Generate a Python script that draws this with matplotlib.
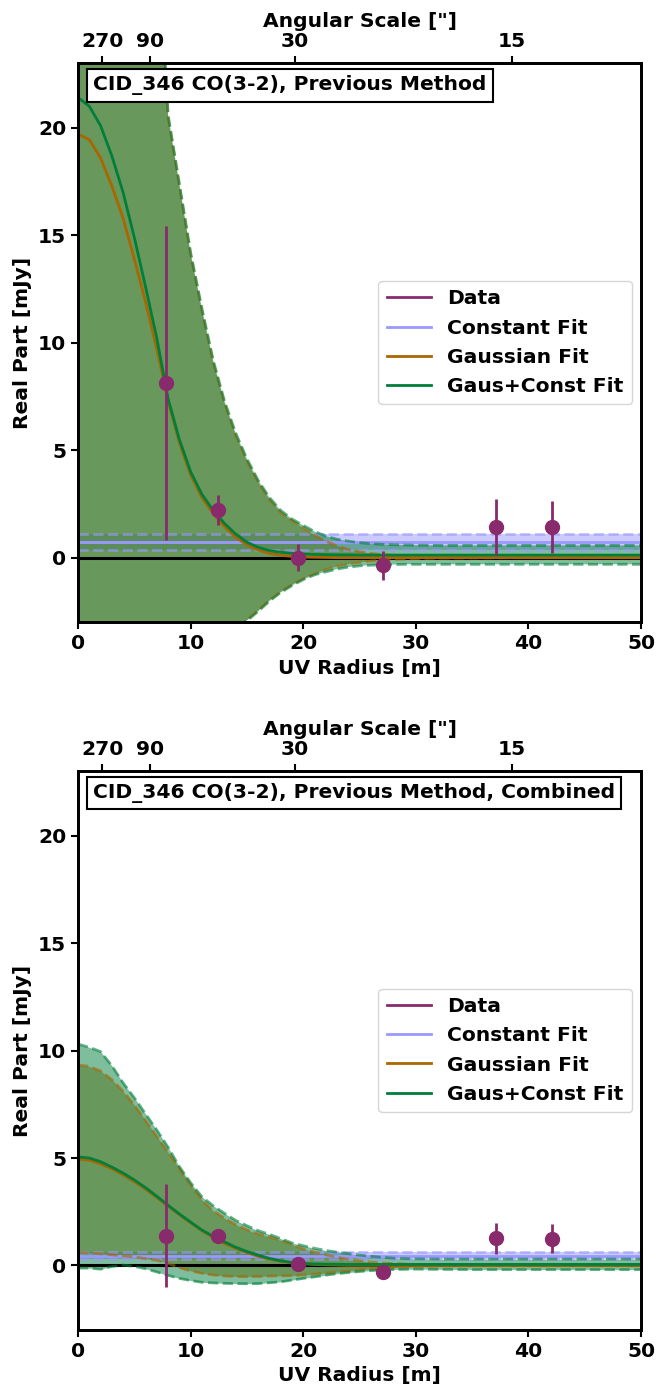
import numpy as np
import matplotlib
matplotlib.use('Agg')
import matplotlib.pyplot as plt

plt.rcParams['font.family'] = ['DejaVu Sans']
plt.rcParams['font.weight'] = 'bold'
plt.rcParams['axes.labelweight'] = 'bold'
plt.rcParams['font.size'] = 14.6

# model grid (uv radius, m)
uv = [0, 1, 2, 3, 4, 5, 6, 7, 8, 9, 10, 11, 12, 13, 14, 15, 16, 17, 18, 19,
      20, 21, 22, 23, 24, 25, 26, 27, 28, 29, 30, 32, 35, 40, 50]

# data points
data_x = [7.8, 12.4, 19.5, 27.1, 37.1, 42.1]
top_data_y = [8.12, 2.22, 0.0, -0.36, 1.44, 1.43]
top_data_err = [7.3, 0.69, 0.62, 0.68, 1.3, 1.22]
bot_data_y = [1.38, 1.38, 0.05, -0.32, 1.27, 1.24]
bot_data_err = [2.4, 0.25, 0.15, 0.15, 0.72, 0.68]

# constant fits: best, low, high
top_const = [0.72, 0.36, 1.08]
bot_const = [0.46, 0.28, 0.64]

# top panel: gaussian fit
top_g_best = [19.7, 19.45, 18.6, 17.3, 15.8, 13.9, 11.9, 9.7, 7.3, 5.35, 3.85, 2.8, 2.05, 1.45, 0.95, 0.6,
              0.36, 0.2, 0.11, 0.06, 0.03, 0.02, 0.01, 0, 0, 0, 0, 0, 0, 0, 0, 0, 0, 0, 0]
top_g_hi = [70, 64, 57, 50, 44, 38, 33, 29.8, 20.5, 17.3, 14.1, 11.5, 9.1, 7.2, 5.7, 4.5,
            3.5, 2.7, 2.1, 1.72, 1.38, 1.05, 0.77, 0.55, 0.38, 0.28, 0.2, 0.15, 0.11, 0.08, 0.06,
            0.03, 0.01, 0, 0]
top_g_lo = [-20, -19, -17.5, -16, -14.5, -13, -11.5, -10, -8.6, -7.3, -6.2, -5.2, -4.4, -3.8, -3.3,
            -2.9, -2.45, -1.98, -1.58, -1.25, -0.98, -0.75, -0.55, -0.4, -0.3, -0.22, -0.16, -0.12,
            -0.08, -0.06, -0.04, -0.02, -0.01, 0, 0]

# top panel: gaussian + constant fit
top_gc_best = [21.4, 21.0, 20.1, 18.7, 17.0, 14.9, 12.6, 10.2, 7.4, 5.5, 4.0, 2.95, 2.2, 1.6, 1.1, 0.72,
               0.48, 0.33, 0.25, 0.2, 0.17, 0.15, 0.14, 0.13, 0.13, 0.12, 0.12, 0.12, 0.12, 0.12, 0.12,
               0.12, 0.12, 0.12, 0.12]
top_gc_hi = [71, 65, 58, 51, 45, 39, 34, 30.0, 20.6, 17.4, 14.2, 11.6, 9.2, 7.3, 5.8, 4.6,
             3.6, 2.8, 2.2, 1.8, 1.5, 1.22, 1.0, 0.86, 0.77, 0.7, 0.65, 0.62, 0.6, 0.59, 0.58,
             0.57, 0.57, 0.57, 0.57]
top_gc_lo = [-20, -19, -17.5, -16, -14.5, -13, -11.5, -10, -8.6, -7.3, -6.2, -5.2, -4.4, -3.8, -3.3,
             -2.93, -2.5, -2.02, -1.62, -1.3, -1.02, -0.8, -0.66, -0.53, -0.44, -0.38, -0.35, -0.33,
             -0.32, -0.31, -0.31, -0.31, -0.31, -0.31, -0.31]

# bottom panel: gaussian fit
bot_g_best = [4.95, 4.9, 4.73, 4.5, 4.22, 3.9, 3.55, 3.16, 2.76, 2.36, 1.98, 1.62, 1.3, 1.03, 0.8, 0.6,
              0.43, 0.3, 0.2, 0.13, 0.08, 0.05, 0.03, 0.02, 0.01, 0.01, 0.01, 0.01, 0, 0, 0, 0, 0, 0, 0]
bot_g_hi = [9.33, 9.26, 9.05, 8.65, 8.1, 7.47, 6.75, 6.0, 5.27, 4.5, 3.75, 3.05, 2.55, 2.2, 1.9, 1.66,
            1.47, 1.33, 1.17, 0.98, 0.77, 0.62, 0.5, 0.38, 0.29, 0.22, 0.16, 0.12, 0.09, 0.07, 0.05,
            0.03, 0.01, 0, 0]
bot_g_lo = [0.6, 0.58, 0.55, 0.5, 0.45, 0.4, 0.32, 0.24, 0.1, -0.1, -0.25, -0.36, -0.44, -0.49, -0.51,
            -0.52, -0.51, -0.49, -0.48, -0.47, -0.44, -0.4, -0.35, -0.3, -0.25, -0.2, -0.16, -0.13,
            -0.1, -0.07, -0.05, -0.03, -0.01, 0, 0]

# bottom panel: gaussian + constant fit
bot_gc_best = [5.05, 5.0, 4.83, 4.58, 4.3, 3.98, 3.62, 3.22, 2.8, 2.4, 2.02, 1.65, 1.36, 1.1, 0.85, 0.65,
               0.48, 0.33, 0.22, 0.14, 0.09, 0.07, 0.06, 0.055, 0.05, 0.05, 0.05, 0.05, 0.05, 0.05,
               0.05, 0.05, 0.05, 0.05, 0.05]
bot_gc_hi = [10.3, 10.15, 9.95, 9.3, 8.5, 7.8, 7.05, 6.3, 5.5, 4.6, 3.85, 3.2, 2.78, 2.43, 2.1, 1.85,
             1.62, 1.45, 1.25, 1.05, 0.92, 0.8, 0.7, 0.62, 0.55, 0.48, 0.43, 0.38, 0.34, 0.32, 0.31,
             0.3, 0.3, 0.3, 0.3]
bot_gc_lo = [-0.12, -0.12, -0.17, -0.05, 0.02, -0.04, -0.15, -0.3, -0.46, -0.6, -0.7, -0.78, -0.81,
             -0.83, -0.84, -0.85, -0.84, -0.8, -0.76, -0.68, -0.6, -0.53, -0.45, -0.38, -0.33, -0.28,
             -0.24, -0.21, -0.19, -0.18, -0.17, -0.18, -0.19, -0.19, -0.19]

ang_scales = [270, 90, 30, 15]
ang_const = 577.5   # uv radius [m] * angle ["]

c_data = '#882A6C'
c_const = '#9999FF'
c_gaus = '#AA6600'
c_gc = '#007F3A'


def draw_panel(ax, title, dy, derr, const, g, gc):
    x = np.array(uv)
    ax.fill_between(x, const[1], const[2], color=c_const, alpha=0.5, lw=0, zorder=1)
    ax.fill_between(x, g[2], g[1], color=c_gaus, alpha=0.5, lw=0, zorder=1)
    ax.fill_between(x, gc[2], gc[1], color=c_gc, alpha=0.5, lw=0, zorder=1)
    ax.axhline(0, color='k', lw=2.2, zorder=1.5)

    ax.axhline(const[1], color=c_const, ls='--', lw=2, alpha=0.6, zorder=2)
    ax.axhline(const[2], color=c_const, ls='--', lw=2, alpha=0.6, zorder=2)
    ax.axhline(const[0], color=c_const, lw=2, zorder=2, label='Constant Fit')

    for band in (g[1], g[2]):
        ax.plot(x, band, color=c_gaus, ls='--', lw=2, alpha=0.6, zorder=2)
    ax.plot(x, g[0], color=c_gaus, lw=2, zorder=2.1, label='Gaussian Fit')

    for band in (gc[1], gc[2]):
        ax.plot(x, band, color=c_gc, ls='--', lw=2, alpha=0.6, zorder=2)
    ax.plot(x, gc[0], color=c_gc, lw=2, zorder=2.2, label='Gaus+Const Fit')

    ax.errorbar(data_x, dy, yerr=derr, fmt='o', color=c_data, ms=10, elinewidth=2,
                capsize=0, zorder=3)
    ax.plot([], [], color=c_data, lw=2, label='Data')

    ax.set_xlim(0, 50)
    ax.set_ylim(-3, 23)
    ax.set_yticks([0, 5, 10, 15, 20])
    ax.set_xlabel('UV Radius [m]', fontweight='bold')
    ax.set_ylabel('Real Part [mJy]', fontweight='bold')
    for s in ax.spines.values():
        s.set_linewidth(2)
    ax.tick_params(width=1.5, length=5)

    h, l = ax.get_legend_handles_labels()
    order = [l.index(n) for n in ['Data', 'Constant Fit', 'Gaussian Fit', 'Gaus+Const Fit']]
    ax.legend([h[i] for i in order], [l[i] for i in order], loc='center right',
              prop={'weight': 'bold', 'size': 14.6}, handlelength=2.2, borderaxespad=0.45)

    ax.text(0.027, 0.978, title, transform=ax.transAxes, va='top', ha='left',
            fontsize=14.6, fontweight='bold', zorder=5,
            bbox=dict(boxstyle='square,pad=0.3', facecolor='white', edgecolor='black', lw=1.5))

    ax2 = ax.twiny()
    ax2.set_xlim(0, 50)
    ax2.set_xticks(ang_const / np.array(ang_scales, dtype=float))
    ax2.set_xticklabels([str(a) for a in ang_scales])
    ax2.set_xlabel('Angular Scale ["]', fontweight='bold')
    ax2.tick_params(width=1.5, length=5)
    for s in ax2.spines.values():
        s.set_linewidth(2)


fig = plt.figure(figsize=(6.57, 13.95), dpi=100)
ax_top = fig.add_axes([0.1187, 0.554, 0.857, 0.4007])
ax_bot = fig.add_axes([0.1187, 0.0466, 0.857, 0.4007])

draw_panel(ax_top, 'CID_346 CO(3-2), Previous Method', top_data_y, top_data_err, top_const,
           (top_g_best, top_g_hi, top_g_lo), (top_gc_best, top_gc_hi, top_gc_lo))
draw_panel(ax_bot, 'CID_346 CO(3-2), Previous Method, Combined', bot_data_y, bot_data_err, bot_const,
           (bot_g_best, bot_g_hi, bot_g_lo), (bot_gc_best, bot_gc_hi, bot_gc_lo))

fig.savefig('out.png', dpi=100)
